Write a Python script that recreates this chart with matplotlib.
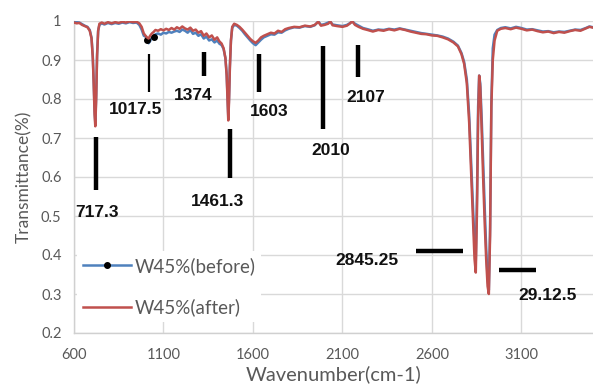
import matplotlib
matplotlib.use("Agg")
import matplotlib.pyplot as plt

# Spectrum data
wavenumber = [600, 615, 630, 645, 660, 675, 688, 698, 705, 710, 715, 719, 724, 729, 735, 742,
              755, 770, 790, 810, 830, 850, 870, 890, 910, 930, 950, 965, 978, 990, 1000, 1008,
              1017, 1025, 1035, 1045, 1055, 1070, 1085, 1100, 1115, 1130, 1145, 1160, 1175, 1190,
              1205, 1220, 1235, 1250, 1265, 1280, 1295, 1310, 1325, 1340, 1355, 1370, 1385, 1400,
              1412, 1425, 1436, 1446, 1453, 1458, 1462, 1466, 1471, 1477, 1484, 1495, 1510, 1525,
              1540, 1555, 1570, 1585, 1600, 1615, 1630, 1645, 1660, 1680, 1700, 1720, 1740, 1760,
              1780, 1800, 1830, 1860, 1890, 1920, 1945, 1965, 1980, 2000, 2020, 2032, 2045, 2070,
              2100, 2125, 2140, 2155, 2170, 2190, 2215, 2240, 2270, 2300, 2330, 2360, 2390, 2420,
              2450, 2480, 2510, 2540, 2570, 2600, 2630, 2660, 2690, 2720, 2745, 2765, 2780, 2795,
              2808, 2820, 2830, 2838, 2845, 2852, 2858, 2864, 2870, 2878, 2886, 2895, 2903, 2911,
              2918, 2925, 2932, 2940, 2950, 2965, 2985, 3010, 3040, 3070, 3100, 3130, 3160, 3190,
              3220, 3250, 3280, 3310, 3340, 3370, 3400, 3430, 3460, 3480, 3500]

after = [0.996, 0.994, 0.995, 0.990, 0.987, 0.984, 0.975, 0.955, 0.905, 0.840, 0.760, 0.730, 0.800, 0.910, 0.975, 0.993,
         0.996, 0.993, 0.997, 0.994, 0.997, 0.995, 0.998, 0.996, 0.999, 0.997, 0.998, 0.994, 0.985, 0.968, 0.962, 0.958,
         0.955, 0.962, 0.968, 0.972, 0.977, 0.975, 0.979, 0.976, 0.980, 0.977, 0.982, 0.978, 0.984, 0.980,
         0.986, 0.981, 0.978, 0.983, 0.975, 0.978, 0.970, 0.974, 0.962, 0.968, 0.958, 0.963, 0.952, 0.958,
         0.948, 0.942, 0.930, 0.905, 0.860, 0.795, 0.745, 0.790, 0.880, 0.950, 0.985, 0.993, 0.990, 0.985,
         0.978, 0.970, 0.962, 0.954, 0.948, 0.944, 0.950, 0.958, 0.962, 0.966, 0.970, 0.968, 0.975, 0.972,
         0.979, 0.982, 0.985, 0.984, 0.988, 0.986, 0.990, 0.998, 0.988, 0.990, 0.993, 0.999, 0.989, 0.987,
         0.985, 0.988, 0.993, 0.999, 0.990, 0.985, 0.980, 0.977, 0.973, 0.977, 0.975, 0.979, 0.976, 0.980,
         0.977, 0.973, 0.970, 0.967, 0.966, 0.963, 0.962, 0.958, 0.953, 0.945, 0.935, 0.915, 0.890, 0.840,
         0.740, 0.600, 0.480, 0.390, 0.355, 0.520, 0.750, 0.860, 0.830, 0.720, 0.600, 0.480, 0.390, 0.320,
         0.300, 0.450, 0.780, 0.900, 0.950, 0.975, 0.980, 0.982, 0.979, 0.983, 0.980, 0.976, 0.978, 0.974,
         0.971, 0.973, 0.969, 0.972, 0.970, 0.974, 0.977, 0.975, 0.981, 0.985, 0.983]

before = [0.998, 0.997, 0.996, 0.992, 0.988, 0.985, 0.977, 0.957, 0.910, 0.845, 0.770, 0.740, 0.810, 0.915, 0.975, 0.990,
          0.994, 0.991, 0.995, 0.992, 0.995, 0.993, 0.996, 0.994, 0.997, 0.995, 0.996, 0.990, 0.978, 0.962, 0.960, 0.952,
          0.943, 0.948, 0.958, 0.960, 0.966, 0.968, 0.965, 0.970, 0.968, 0.972, 0.970, 0.973, 0.975, 0.972,
          0.978, 0.975, 0.970, 0.977, 0.967, 0.970, 0.962, 0.966, 0.955, 0.960, 0.950, 0.953, 0.945, 0.950,
          0.942, 0.938, 0.928, 0.905, 0.865, 0.800, 0.755, 0.800, 0.885, 0.950, 0.982, 0.990, 0.988, 0.982,
          0.975, 0.966, 0.958, 0.950, 0.943, 0.938, 0.945, 0.952, 0.958, 0.962, 0.966, 0.965, 0.971, 0.970,
          0.976, 0.980, 0.984, 0.983, 0.987, 0.985, 0.989, 0.999, 0.990, 0.992, 0.996, 0.998, 0.991, 0.989,
          0.987, 0.990, 0.994, 0.999, 0.993, 0.988, 0.982, 0.979, 0.975, 0.978, 0.977, 0.980, 0.978, 0.981,
          0.978, 0.975, 0.972, 0.969, 0.967, 0.965, 0.963, 0.960, 0.955, 0.947, 0.937, 0.918, 0.895, 0.850,
          0.760, 0.630, 0.520, 0.430, 0.385, 0.560, 0.780, 0.860, 0.840, 0.750, 0.640, 0.520, 0.420, 0.340,
          0.310, 0.470, 0.790, 0.930, 0.965, 0.977, 0.982, 0.984, 0.981, 0.985, 0.982, 0.978, 0.979, 0.976,
          0.973, 0.974, 0.971, 0.973, 0.972, 0.975, 0.978, 0.977, 0.982, 0.986, 0.984]

# peak labels: (text, line x, line y0, line y1, text x, text y, line width)
peaks_v = [
    ("717.3", 722, 0.567, 0.703, 728, 0.508, 3.2),
    ("1017.5", 1018, 0.818, 0.915, 945, 0.772, 1.6),
    ("1374", 1324, 0.859, 0.920, 1266, 0.810, 3.2),
    ("1461.3", 1469, 0.597, 0.723, 1402, 0.536, 3.2),
    ("1603", 1636, 0.818, 0.915, 1692, 0.769, 3.2),
    ("2010", 1993, 0.723, 0.936, 2032, 0.669, 3.2),
    ("2107", 2188, 0.856, 0.938, 2232, 0.803, 3.2),
]
peaks_h = [
    ("2845.25", 2511, 2773, 0.410, 2238, 0.387),
    ("29.12.5", 2973, 3179, 0.362, 3246, 0.297),
]

gray = "#595959"
plt.rcParams["font.family"] = ["Lato", "DejaVu Sans"]

fig = plt.figure(figsize=(5.93, 3.92), dpi=100)
ax = fig.add_axes([74 / 593, 59 / 392, 519 / 593, 312 / 392])

ax.plot(wavenumber, before, color="#4F81BD", lw=1.8, label="W45%(before)",
        marker="o", markersize=4, markerfacecolor="black", markeredgecolor="black",
        markevery=[31, 35], zorder=3)
ax.plot(wavenumber, after, color="#C0504D", lw=1.8, label="W45%(after)", zorder=4)

for txt, x, y0, y1, tx, ty, lw in peaks_v:
    ax.plot([x, x], [y0, y1], color="black", lw=lw, solid_capstyle="butt", zorder=5)
    ax.text(tx, ty, txt, ha="center", va="center", fontsize=12.5, fontweight="bold",
            family="Liberation Sans", color="#111111", zorder=6)
for txt, x0, x1, y, tx, ty in peaks_h:
    ax.plot([x0, x1], [y, y], color="black", lw=3.2, solid_capstyle="butt", zorder=5)
    ax.text(tx, ty, txt, ha="center", va="center", fontsize=12.5, fontweight="bold",
            family="Liberation Sans", color="#111111", zorder=6)

ax.set_xlim(600, 3500)
ax.set_ylim(0.2, 1.0)
ax.set_xticks([600, 1100, 1600, 2100, 2600, 3100])
ax.set_yticks([0.2, 0.3, 0.4, 0.5, 0.6, 0.7, 0.8, 0.9, 1.0])
ax.set_yticklabels(["0.2", "0.3", "0.4", "0.5", "0.6", "0.7", "0.8", "0.9", "1"])
ax.tick_params(axis="both", length=0, labelsize=10.5, labelcolor=gray)
ax.tick_params(axis="x", pad=11)
ax.tick_params(axis="y", pad=9)
ax.grid(True, color="#d9d9d9", lw=1.0)
ax.set_axisbelow(True)
for s in ["top", "right"]:
    ax.spines[s].set_visible(False)
for s in ["left", "bottom"]:
    ax.spines[s].set_color("#d0d0d0")
    ax.spines[s].set_linewidth(1.0)

ax.set_xlabel("Wavenumber(cm-1)", fontsize=14.5, color=gray, labelpad=2)
ax.set_ylabel("Transmittance(%)", fontsize=12.5, color=gray, labelpad=6)

leg = ax.legend(loc="upper left", bbox_to_anchor=(0.006, 0.262), frameon=True,
                fontsize=13.5, labelcolor=gray, handlelength=2.56, handletextpad=0.2,
                labelspacing=1.27, borderpad=0.3, borderaxespad=0.0)
leg.get_frame().set_edgecolor("none")
leg.get_frame().set_facecolor("white")
leg.get_frame().set_alpha(1.0)

fig.savefig("out.png", dpi=100)
